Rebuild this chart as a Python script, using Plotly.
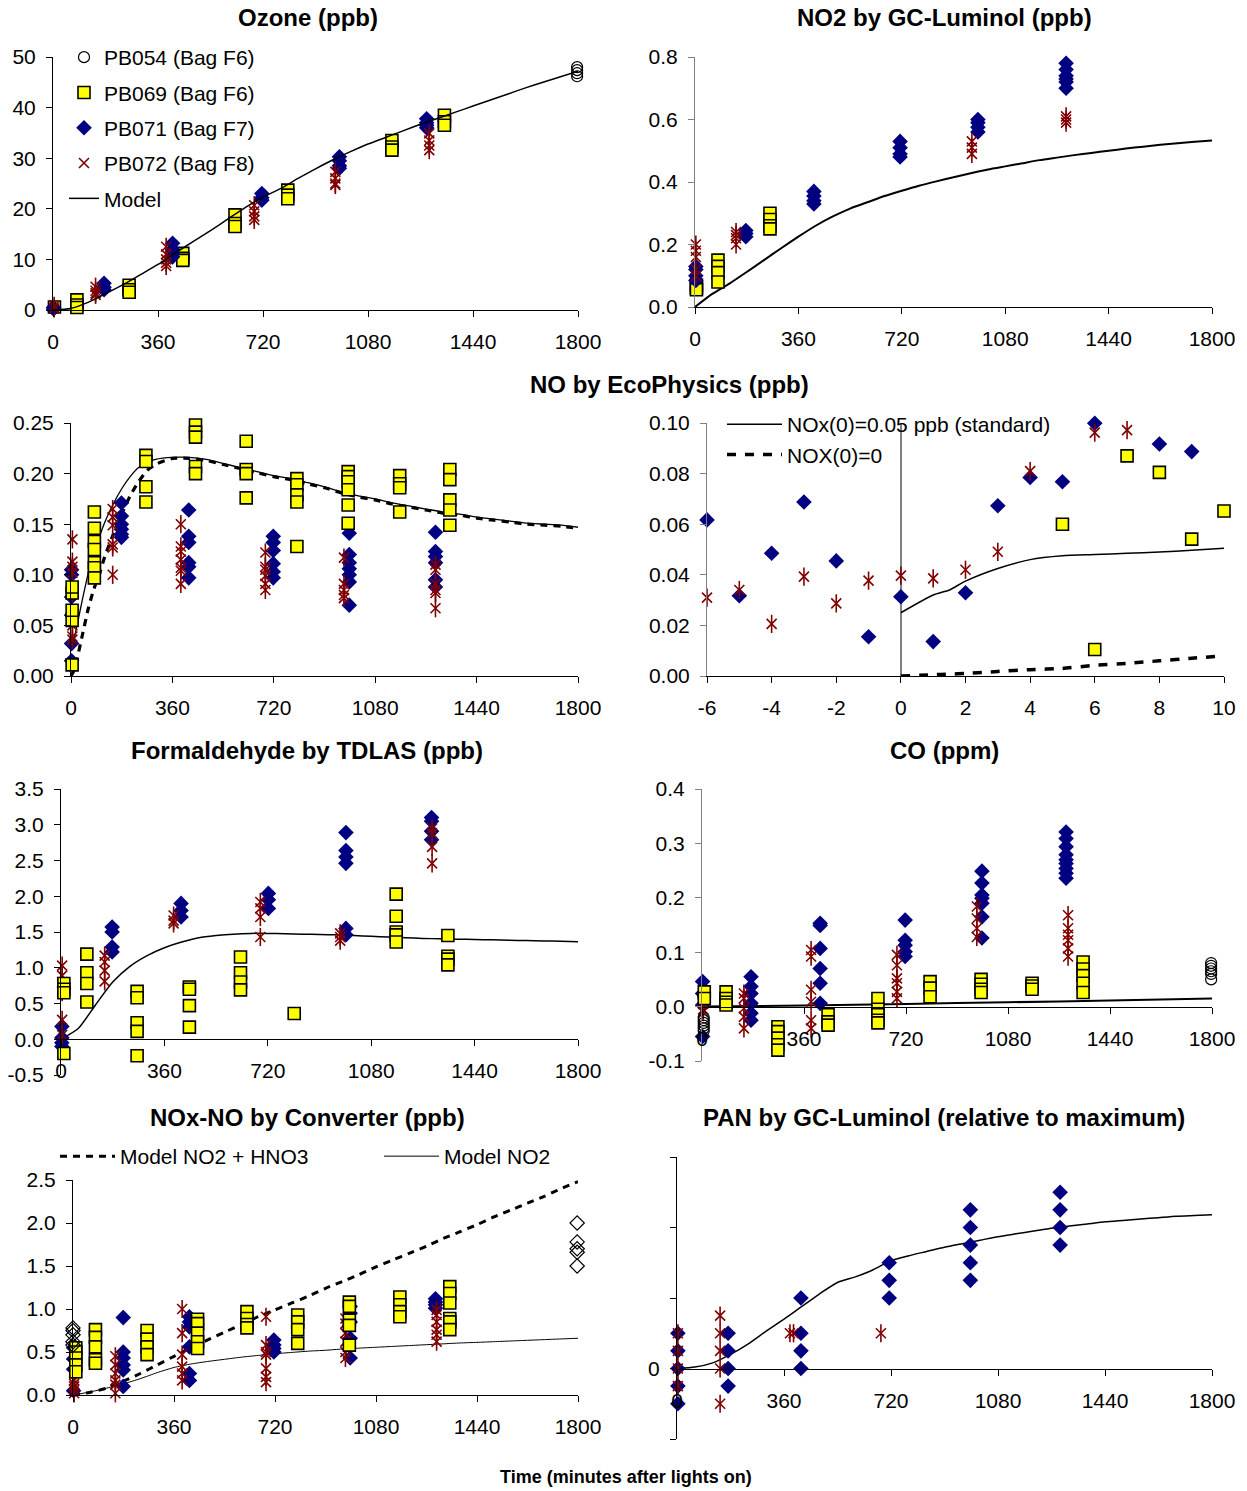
import plotly.graph_objects as go

W, H = 1247, 1491
FONT = "Liberation Sans, Arial, sans-serif"
NAVY = "#000080"
MAROON = "#800000"
YELLOW = "#FFFF00"

# ---------------------------------------------------------------- data
# Model time grid (minutes after lights on)
MODEL_T = [0, 60, 120, 180, 240, 300, 360, 420, 480, 540, 600, 660, 720, 780, 840,
           900, 960, 1020, 1080, 1140, 1200, 1260, 1320, 1380, 1440, 1500, 1560,
           1620, 1680, 1740, 1800]
TIME_TICKS = [0, 360, 720, 1080, 1440, 1800]
MINUTE_TICKS = [-6, -4, -2, 0, 2, 4, 6, 8, 10]

# Ozone (ppb): clusters of (time, [values])
OZ_PB054 = [(0, [0.3]), (1797, [48.0, 47.4, 46.8, 46.2])]
OZ_PB069 = [(5, [0.6]), (82, [2.0, 1.0, 0.5]), (261, [4.9, 4.0, 3.5]),
            (445, [11.2, 10.2, 9.8]), (624, [18.8, 17.1, 16.5]),
            (805, [23.7, 22.7, 22.0]), (1162, [33.5, 32.2, 31.6]),
            (1342, [38.5, 37.2, 36.5])]
OZ_PB071 = [(2, [0.5, 0.2]), (175, [5.3, 4.5, 4.0]), (410, [13.2, 12.0, 11.0, 10.5]),
            (716, [23.0, 22.2, 21.7]), (982, [30.3, 29.5, 28.5, 28.0]),
            (1281, [37.8, 37.0, 36.5, 36.0])]
OZ_PB072 = [(4, [0.8, 0.3]), (146, [4.6, 3.8, 3.3, 3.0]),
            (388, [12.5, 11.0, 10.0, 9.3, 8.7]), (690, [20.7, 19.5, 18.5, 17.8]),
            (968, [27.3, 26.0, 25.0, 24.7]), (1290, [34.9, 33.5, 32.5, 31.6])]
OZ_MODEL = [0, 0.3, 1.5, 3.2, 5.0, 7.0, 9.0, 11.3, 13.5, 15.7, 18.0, 20.3, 22.3, 24.0,
            26.0, 27.9, 29.7, 31.3, 32.8, 34.1, 35.4, 36.7, 37.9, 39.1, 40.3, 41.5,
            42.7, 43.9, 45.0, 46.1, 47.2]

# NO2 by GC-Luminol (ppb)
N2_PB069 = [(5, [0.07, 0.06, 0.055]), (80, [0.15, 0.13, 0.11, 0.08]),
            (261, [0.30, 0.28, 0.26, 0.25])]
N2_PB071 = [(3, [0.13, 0.12, 0.10, 0.085]), (177, [0.245, 0.235, 0.225]),
            (414, [0.37, 0.355, 0.34, 0.33]), (714, [0.53, 0.51, 0.49, 0.48]),
            (985, [0.60, 0.59, 0.575, 0.56]),
            (1292, [0.78, 0.76, 0.74, 0.73, 0.72, 0.70])]
N2_PB072 = [(3, [0.20, 0.18, 0.16, 0.12, 0.10]), (143, [0.24, 0.23, 0.22, 0.20]),
            (964, [0.53, 0.51, 0.49]), (1292, [0.61, 0.60, 0.59])]
N2_MODEL = [0, 0.042, 0.075, 0.112, 0.15, 0.188, 0.225, 0.26, 0.29, 0.315, 0.335,
            0.355, 0.372, 0.388, 0.402, 0.415, 0.428, 0.44, 0.45, 0.46, 0.47, 0.478,
            0.486, 0.493, 0.5, 0.507, 0.513, 0.519, 0.524, 0.529, 0.533]

# NO by EcoPhysics (ppb)
NO_PB069 = [(4, [0.011, 0.055, 0.065, 0.082, 0.088]),
            (83, [0.162, 0.146, 0.133, 0.125, 0.112, 0.107, 0.097]),
            (266, [0.218, 0.212, 0.187, 0.172]),
            (442, [0.248, 0.241, 0.236, 0.207, 0.200]),
            (622, [0.232, 0.204, 0.200, 0.176]),
            (802, [0.195, 0.189, 0.179, 0.172, 0.128]),
            (984, [0.202, 0.197, 0.192, 0.184, 0.169, 0.151]),
            (1167, [0.198, 0.190, 0.186, 0.162]),
            (1345, [0.204, 0.194, 0.174, 0.164, 0.149])]
NO_PB071 = [(2, [0.015, 0.032, 0.060, 0.078, 0.100, 0.105]),
            (179, [0.171, 0.158, 0.150, 0.145, 0.140, 0.137]),
            (418, [0.164, 0.138, 0.132, 0.112, 0.108, 0.097]),
            (718, [0.138, 0.132, 0.124, 0.111, 0.103, 0.097]),
            (988, [0.141, 0.120, 0.112, 0.106, 0.100, 0.093, 0.070]),
            (1294, [0.142, 0.123, 0.118, 0.112, 0.095, 0.088])]
NO_PB072 = [(5, [0.135, 0.113, 0.108, 0.102, 0.082, 0.050, 0.039, 0.036]),
            (148, [0.165, 0.157, 0.149, 0.130, 0.127, 0.100]),
            (390, [0.150, 0.128, 0.123, 0.115, 0.107, 0.104, 0.091]),
            (690, [0.122, 0.108, 0.105, 0.099, 0.091, 0.085]),
            (969, [0.117, 0.091, 0.085, 0.080, 0.077]),
            (1294, [0.110, 0.105, 0.091, 0.085, 0.082, 0.067])]
NO_MODEL_T = [0, 10, 20, 40, 60, 80, 100, 120, 150, 180, 210, 240, 270, 300, 360,
              420, 480, 540, 600, 660, 720, 780, 840, 900, 960, 1020, 1080, 1140,
              1200, 1260, 1320, 1380, 1440, 1500, 1560, 1620, 1680, 1740, 1800]
NO_MODEL_STD = [0.025, 0.035, 0.048, 0.075, 0.100, 0.120, 0.137, 0.152, 0.170, 0.185,
                0.197, 0.206, 0.211, 0.214, 0.216, 0.216, 0.214, 0.210, 0.206, 0.202,
                0.198, 0.195, 0.191, 0.187, 0.182, 0.178, 0.175, 0.171, 0.168, 0.165,
                0.162, 0.160, 0.157, 0.155, 0.153, 0.151, 0.150, 0.149, 0.147]
NO_MODEL_ZERO = [0.0, 0.005, 0.015, 0.040, 0.065, 0.085, 0.100, 0.118, 0.140, 0.160,
                 0.178, 0.192, 0.203, 0.209, 0.215, 0.215, 0.213, 0.209, 0.205, 0.201,
                 0.197, 0.194, 0.190, 0.186, 0.181, 0.177, 0.174, 0.170, 0.167, 0.164,
                 0.161, 0.159, 0.156, 0.154, 0.152, 0.150, 0.149, 0.148, 0.146]

# NO, first minutes around lights on (ppb)
NOI_T_071 = [-6, -5, -4, -3, -2, -1, 0, 1, 2, 3, 4, 5, 6, 8, 9]
NOI_PB071 = [0.0617, 0.0317, 0.0485, 0.0688, 0.0455, 0.0155, 0.0313, 0.0136, 0.0329,
             0.0673, 0.0785, 0.0768, 0.0999, 0.0917, 0.0887]
NOI_T_072 = [-6, -5, -4, -3, -2, -1, 0, 1, 2, 3, 4, 6, 7]
NOI_PB072 = [0.0310, 0.0340, 0.0206, 0.0393, 0.0287, 0.0377, 0.0397, 0.0386, 0.0420,
             0.0491, 0.0810, 0.0962, 0.0972]
NOI_T_069 = [5, 6, 7, 8, 9, 10]
NOI_PB069 = [0.0600, 0.0105, 0.0870, 0.0805, 0.0541, 0.0652]
NOI_MODEL_T = [0, 1, 1.5, 2, 3, 4, 5, 6, 7, 8, 9, 10]
NOI_MODEL_STD = [0.025, 0.032, 0.034, 0.0375, 0.0425, 0.046, 0.0475, 0.048, 0.0485,
                 0.049, 0.0497, 0.0505]
NOI_MODEL_ZERO = [0.0, 0.0005, 0.0007, 0.001, 0.0018, 0.0025, 0.003, 0.0042, 0.005,
                  0.006, 0.007, 0.008]

# Formaldehyde by TDLAS (ppb)
HC_PB069 = [(10, [0.78, 0.70, 0.65, -0.20]), (90, [1.19, 0.93, 0.78, 0.52]),
            (265, [0.67, 0.58, 0.23, 0.11, -0.23]), (447, [0.73, 0.70, 0.47, 0.17]),
            (625, [1.15, 0.93, 0.80, 0.69]), (812, [0.36]),
            (1167, [2.03, 1.72, 1.50, 1.46, 1.36]), (1347, [1.45, 1.16, 1.12, 1.04])]
HC_PB071 = [(3, [0.18, 0.02, -0.05, -0.10]), (178, [1.57, 1.50, 1.29, 1.22]),
            (418, [1.90, 1.80, 1.71]), (722, [2.04, 1.95, 1.83]),
            (992, [2.89, 2.64, 2.55, 2.46, 1.55, 1.46]),
            (1290, [3.10, 3.05, 2.91, 2.79])]
HC_PB072 = [(4, [1.03, 0.89, 0.80, 0.66, 0.27, 0.06]), (152, [1.17, 1.08, 0.96, 0.81]),
            (392, [1.73, 1.66, 1.62]), (694, [1.92, 1.83, 1.71, 1.43]),
            (972, [1.48, 1.43, 1.38]), (1292, [2.95, 2.88, 2.69, 2.46])]
HC_MODEL = [0, 0.15, 0.48, 0.80, 1.02, 1.17, 1.28, 1.36, 1.42, 1.45, 1.47, 1.48, 1.48,
            1.475, 1.47, 1.465, 1.46, 1.45, 1.44, 1.43, 1.42, 1.41, 1.405, 1.40,
            1.395, 1.39, 1.385, 1.38, 1.375, 1.37, 1.365]

# CO (ppm)
CO_PB054 = [(6, [-0.020, -0.025, -0.030, -0.035, -0.040, -0.045]),
            (1797, [0.080, 0.075, 0.070, 0.065, 0.060, 0.050])]
CO_PB069 = [(8, [0.027, 0.015]), (85, [0.027, 0.015, 0.008, 0.003]),
            (268, [-0.037, -0.046, -0.058, -0.070, -0.080]),
            (445, [-0.015, -0.028, -0.034]),
            (621, [0.015, -0.005, -0.015, -0.025, -0.030]),
            (805, [0.046, 0.034, 0.018]), (985, [0.050, 0.041, 0.032, 0.026]),
            (1165, [0.043, 0.038, 0.032]),
            (1345, [0.082, 0.069, 0.057, 0.043, 0.026])]
CO_PB071 = [(2, [0.046, 0.024, 0.003, -0.055]),
            (173, [0.055, 0.037, 0.024, 0.006, -0.012, -0.025]),
            (417, [0.153, 0.149, 0.107, 0.070, 0.043, 0.006]),
            (717, [0.159, 0.122, 0.113, 0.101, 0.092]),
            (988, [0.249, 0.227, 0.205, 0.199, 0.190, 0.165, 0.126]),
            (1285, [0.321, 0.309, 0.294, 0.279, 0.270, 0.263, 0.254, 0.245, 0.236])]
CO_PB072 = [(4, [0.015, 0.005, -0.005, -0.010]),
            (148, [0.024, 0.015, -0.003, -0.019, -0.040]),
            (385, [0.104, 0.092, 0.031, 0.009, -0.025, -0.040]),
            (688, [0.095, 0.076, 0.052, 0.043, 0.027, 0.015]),
            (970, [0.184, 0.162, 0.144, 0.128]),
            (1292, [0.168, 0.144, 0.132, 0.122, 0.107, 0.092])]
CO_MODEL_T = [0, 360, 720, 1080, 1440, 1800]
CO_MODEL = [0.0, 0.002, 0.005, 0.008, 0.011, 0.015]

# NOx-NO by converter (ppb)
NX_PB054 = [(0, [0.78, 0.75, 0.70, 0.62, 0.58]), (1797, [2.00, 1.78, 1.70, 1.66, 1.50])]
NX_PB069 = [(10, [0.55, 0.50, 0.43, 0.35, 0.27]), (80, [0.76, 0.67, 0.56, 0.41, 0.37]),
            (264, [0.75, 0.65, 0.56, 0.47]), (444, [0.88, 0.83, 0.72, 0.62, 0.54]),
            (620, [0.97, 0.89, 0.82, 0.78]), (801, [0.93, 0.85, 0.76, 0.60]),
            (985, [1.08, 1.03, 0.87, 0.81, 0.58]), (1165, [1.14, 1.05, 0.97, 0.91]),
            (1343, [1.26, 1.18, 1.07, 0.89, 0.85, 0.76])]
NX_PB071 = [(2, [0.55, 0.42, 0.30, 0.05]), (179, [0.90, 0.50, 0.43, 0.35, 0.29, 0.10]),
            (415, [0.91, 0.85, 0.79, 0.56, 0.25, 0.17]), (716, [0.64, 0.58, 0.54, 0.50]),
            (988, [1.03, 0.95, 0.85, 0.66, 0.43]), (1292, [1.12, 1.08, 1.05, 1.01])]
NX_PB072 = [(4, [0.25, 0.17, 0.13, 0.10, 0.06, 0.02]),
            (151, [0.45, 0.35, 0.25, 0.17, 0.12, 0.02]),
            (389, [1.00, 0.72, 0.47, 0.33, 0.25, 0.17]),
            (688, [0.91, 0.58, 0.50, 0.47, 0.31, 0.21, 0.15]),
            (971, [0.89, 0.83, 0.72, 0.62, 0.50, 0.43]),
            (1296, [0.99, 0.93, 0.85, 0.76, 0.70, 0.62])]
NX_MODEL_NO2_HNO3 = [0, 0.03, 0.08, 0.16, 0.25, 0.35, 0.45, 0.55, 0.64, 0.73, 0.82,
                     0.91, 0.99, 1.07, 1.15, 1.24, 1.32, 1.40, 1.49, 1.57, 1.65, 1.73,
                     1.82, 1.90, 1.98, 2.07, 2.15, 2.23, 2.31, 2.40, 2.48]
NX_MODEL_NO2 = [0, 0.035, 0.08, 0.13, 0.19, 0.26, 0.32, 0.36, 0.39, 0.415, 0.44, 0.46,
                0.48, 0.495, 0.51, 0.52, 0.535, 0.545, 0.555, 0.565, 0.575, 0.585,
                0.595, 0.605, 0.612, 0.62, 0.628, 0.636, 0.644, 0.652, 0.66]

# PAN by GC-Luminol (relative to maximum)
PAN_PB071 = [(3, [0.5, 0.25, 0, -0.25, -0.5]), (172, [0.5, 0.25, 0, -0.25]),
             (417, [1.0, 0.5, 0.25, 0]), (714, [1.5, 1.25, 1.0]),
             (987, [2.25, 2.0, 1.75, 1.5, 1.25]), (1289, [2.5, 2.25, 2.0, 1.75])]
PAN_PB072 = [(3, [0.5, 0.25, 0, -0.25]), (145, [0.75, 0.5, 0.25, 0, -0.5]),
             (380, [0.5]), (392, [0.5]), (686, [0.5])]
PAN_MODEL = [0, 0.02, 0.08, 0.2, 0.35, 0.53, 0.7, 0.88, 1.06, 1.22, 1.3, 1.4, 1.53,
             1.6, 1.66, 1.72, 1.77, 1.82, 1.87, 1.91, 1.95, 1.99, 2.02, 2.05, 2.08,
             2.1, 2.12, 2.14, 2.16, 2.17, 2.18]

SERIES_NAMES = ["PB054 (Bag F6)", "PB069 (Bag F6)", "PB071 (Bag F7)", "PB072 (Bag F8)"]


# ---------------------------------------------------------------- helpers
def expand(clusters):
    xs, ys = [], []
    for t, vals in clusters:
        for v in vals:
            xs.append(t)
            ys.append(v)
    return xs, ys


MK_CIRCLE = dict(symbol="circle-open", size=11, color="black", line=dict(width=1.2))
MK_ODIAM = dict(symbol="diamond-open", size=11, color="black", line=dict(width=1.2))
MK_SQUARE = dict(symbol="square", size=12, color=YELLOW, line=dict(color="black", width=1.6))
MK_DIAM = dict(symbol="diamond", size=12, color=NAVY, line=dict(width=0))
MK_X = dict(symbol="x-thin-open", size=10, color=MAROON, line=dict(color=MAROON, width=1.6))
MK_BAR = dict(symbol="line-ns-open", size=13, color=MAROON, line=dict(color=MAROON, width=1.6))

fig = go.Figure()


def axis_ids(n):
    return ("x", "y") if n == 1 else (f"x{n}", f"y{n}")


def add_pts(n, x, y, marker, name, legend=False, group=None):
    xa, ya = axis_ids(n)
    fig.add_trace(go.Scatter(
        x=x, y=y, mode="markers", marker=marker, name=name, xaxis=xa, yaxis=ya,
        showlegend=legend, legendgroup=group or name, cliponaxis=False,
        hoverinfo="skip"))


def add_series(n, data, kind, legend=False):
    x, y = expand(data) if isinstance(data, list) else data
    if kind == "054":
        add_pts(n, x, y, MK_CIRCLE, SERIES_NAMES[0], legend)
    elif kind == "054d":
        add_pts(n, x, y, MK_ODIAM, SERIES_NAMES[0], legend)
    elif kind == "069":
        add_pts(n, x, y, MK_SQUARE, SERIES_NAMES[1], legend)
    elif kind == "071":
        add_pts(n, x, y, MK_DIAM, SERIES_NAMES[2], legend)
    elif kind == "072":
        # six-armed star: an x plus a vertical bar
        add_pts(n, x, y, MK_X, SERIES_NAMES[3], legend)
        add_pts(n, x, y, MK_BAR, SERIES_NAMES[3] + " bar", False, group=SERIES_NAMES[3])


def add_line(n, x, y, name, width=1.5, dash="solid", legend=False, legend_id="legend"):
    xa, ya = axis_ids(n)
    fig.add_trace(go.Scatter(
        x=x, y=y, mode="lines", name=name,
        line=dict(color="black", width=width, dash=dash, shape="spline", smoothing=0.6),
        xaxis=xa, yaxis=ya, showlegend=legend, legend=legend_id, legendgroup=name,
        hoverinfo="skip"))


# 1 Ozone
add_series(1, OZ_PB054, "054", True)
add_series(1, OZ_PB069, "069", True)
add_series(1, OZ_PB071, "071", True)
add_series(1, OZ_PB072, "072", True)
add_line(1, MODEL_T, OZ_MODEL, "Model", 1.5, legend=True)

# 2 NO2
add_line(2, MODEL_T, N2_MODEL, "Model NO2 (GC)", 2)
add_series(2, N2_PB069, "069")
add_series(2, N2_PB071, "071")
add_series(2, N2_PB072, "072")

# 3 NO
add_line(3, NO_MODEL_T, NO_MODEL_ZERO, "NO zero", 3.2, dash="7px,6px")
add_line(3, NO_MODEL_T, NO_MODEL_STD, "NO std", 1.3)
add_series(3, NO_PB071, "071")
add_series(3, NO_PB072, "072")
add_series(3, NO_PB069, "069")

# 4 NO, early minutes
add_line(4, NOI_MODEL_T, NOI_MODEL_STD, "NOx(0)=0.05 ppb (standard)", 1.5,
         legend=True, legend_id="legend2")
add_line(4, NOI_MODEL_T, NOI_MODEL_ZERO, "NOX(0)=0", 3.5, dash="9px,9px",
         legend=True, legend_id="legend2")
add_series(4, (NOI_T_071, NOI_PB071), "071")
add_series(4, (NOI_T_072, NOI_PB072), "072")
add_series(4, (NOI_T_069, NOI_PB069), "069")

# 5 Formaldehyde
add_line(5, MODEL_T, HC_MODEL, "HCHO model", 1.5)
add_series(5, HC_PB071, "071")
add_series(5, HC_PB072, "072")
add_series(5, HC_PB069, "069")

# 6 CO
add_line(6, CO_MODEL_T, CO_MODEL, "CO model", 2)
add_series(6, CO_PB071, "071")
add_series(6, CO_PB072, "072")
add_series(6, CO_PB069, "069")
add_series(6, CO_PB054, "054")

# 7 NOx-NO
add_line(7, MODEL_T, NX_MODEL_NO2_HNO3, "Model NO2 + HNO3", 3, dash="7px,6px",
         legend=True, legend_id="legend3")
add_line(7, MODEL_T, NX_MODEL_NO2, "Model NO2", 1, legend=True, legend_id="legend3")
add_series(7, NX_PB071, "071")
add_series(7, NX_PB072, "072")
add_series(7, NX_PB069, "069")
add_series(7, NX_PB054, "054d")

# 8 PAN
add_line(8, MODEL_T, PAN_MODEL, "PAN model", 1.5)
add_series(8, PAN_PB071, "071")
add_series(8, PAN_PB072, "072")

# ---------------------------------------------------------------- axes
TICKFONT = dict(family=FONT, size=21, color="black")


def labels(vals, fmt):
    # plain hyphen for negatives, as in spreadsheet output
    return [format(v, fmt) for v in vals]


# plot-area boxes in pixels: (left, right, top, bottom)
BOX = {
    1: (53, 578, 57, 310),
    2: (695, 1212, 57, 307),
    3: (71, 578, 423, 676),
    4: (707, 1224, 423, 676),
    5: (61, 578, 789, 1075),
    6: (702, 1212, 789, 1061),
    7: (73, 578, 1180, 1395),
    8: (677, 1212, 1157, 1439),
}
YRANGE = {1: [0, 50], 2: [0, 0.8], 3: [0, 0.25], 4: [0, 0.1], 5: [-0.5, 3.5],
          6: [-0.1, 0.4], 7: [0, 2.5], 8: [-1, 3]}
YTICKVALS = {1: [0, 10, 20, 30, 40, 50], 2: [0, 0.2, 0.4, 0.6, 0.8],
             3: [0, 0.05, 0.1, 0.15, 0.2, 0.25], 4: [0, 0.02, 0.04, 0.06, 0.08, 0.1],
             5: [-0.5, 0, 0.5, 1, 1.5, 2, 2.5, 3, 3.5],
             6: [-0.1, 0, 0.1, 0.2, 0.3, 0.4], 7: [0, 0.5, 1, 1.5, 2, 2.5],
             8: [-1, 0, 1, 2, 3]}
YFMT = {1: "d", 2: ".1f", 3: ".2f", 4: ".2f", 5: ".1f", 6: ".1f", 7: ".1f"}
YLINE = {1: "black", 2: "#808080", 3: "black", 4: "#808080", 5: "black",
         6: "#808080", 7: "black", 8: "black"}
FREE_X = {5, 6, 8}

layout_axes = {}
for n, (l, r, t, b) in BOX.items():
    xd = [l / W, r / W]
    yd = [1 - b / H, 1 - t / H]
    xname = "xaxis" if n == 1 else f"xaxis{n}"
    yname = "yaxis" if n == 1 else f"yaxis{n}"
    xa = dict(domain=xd, showgrid=False, zeroline=False, showline=True,
              linecolor="black", linewidth=1, ticks="outside", ticklen=6,
              tickcolor="black", tickfont=TICKFONT, ticklabelstandoff=7,
              fixedrange=True, tickmode="array")
    if n == 4:
        xa.update(range=[-6, 10], tickvals=MINUTE_TICKS,
                  ticktext=labels(MINUTE_TICKS, "d"),
                  zeroline=True, zerolinecolor="#808080", zerolinewidth=1.5)
    else:
        xa.update(range=[0, 1800], tickvals=TIME_TICKS, ticktext=labels(TIME_TICKS, "d"))
    yr = YRANGE[n]
    if n in FREE_X:
        frac = (0 - yr[0]) / (yr[1] - yr[0])
        xa.update(anchor="free", position=yd[0] + frac * (yd[1] - yd[0]))
    else:
        xa.update(anchor=axis_ids(n)[1])
    if n == 8:
        yt = ["" if v != 0 else "0" for v in YTICKVALS[n]]
    else:
        yt = labels(YTICKVALS[n], YFMT[n])
    ya = dict(domain=yd, range=yr, anchor=axis_ids(n)[0],
              showgrid=False, zeroline=False, showline=True, linecolor=YLINE[n],
              linewidth=1, ticks="outside", ticklen=6, tickcolor=YLINE[n],
              tickfont=TICKFONT, ticklabelstandoff=6, fixedrange=True,
              tickmode="array", tickvals=YTICKVALS[n], ticktext=yt)
    layout_axes[xname] = xa
    layout_axes[yname] = ya

# ---------------------------------------------------------------- titles
TITLES = [
    ("Ozone (ppb)", 308, 17),
    ("NO2 by GC-Luminol (ppb)", 944, 17),
    ("NO by EcoPhysics (ppb)", 669, 384),
    ("Formaldehyde by TDLAS (ppb)", 307, 750),
    ("CO (ppm)", 944, 750),
    ("NOx-NO by Converter (ppb)", 307, 1117),
    ("PAN by GC-Luminol (relative to maximum)", 944, 1117),
]
annotations = [dict(text=f"<b>{txt}</b>", x=x / W, y=1 - y / H, xref="paper", yref="paper",
                    xanchor="center", yanchor="middle", showarrow=False,
                    font=dict(family=FONT, size=24, color="black"))
               for txt, x, y in TITLES]
annotations.append(dict(text="<b>Time (minutes after lights on)</b>", x=626 / W,
                        y=1 - 1477 / H, xref="paper", yref="paper", xanchor="center",
                        yanchor="middle", showarrow=False,
                        font=dict(family=FONT, size=18, color="black")))

LEGFONT = dict(family=FONT, size=21, color="black")
fig.update_layout(
    width=W, height=H, autosize=False,
    margin=dict(l=0, r=0, t=0, b=0),
    paper_bgcolor="white", plot_bgcolor="rgba(0,0,0,0)",
    template="none",
    font=dict(family=FONT, size=21, color="black"),
    annotations=annotations,
    legend=dict(x=64 / W, y=1 - 37 / H, xanchor="left", yanchor="top",
                font=LEGFONT, bgcolor="rgba(0,0,0,0)", traceorder="grouped",
                tracegroupgap=5),
    legend2=dict(x=722 / W, y=1 - 404 / H, xanchor="left", yanchor="top",
                 font=LEGFONT, bgcolor="rgba(0,0,0,0)", itemwidth=55,
                 tracegroupgap=0, traceorder="normal"),
    legend3=dict(x=55 / W, y=1 - 1136 / H, xanchor="left", yanchor="top",
                 orientation="h", font=LEGFONT, bgcolor="rgba(0,0,0,0)",
                 itemwidth=55, entrywidth=254),
    **layout_axes,
)

fig.write_html("out.html", config={"displayModeBar": False})
